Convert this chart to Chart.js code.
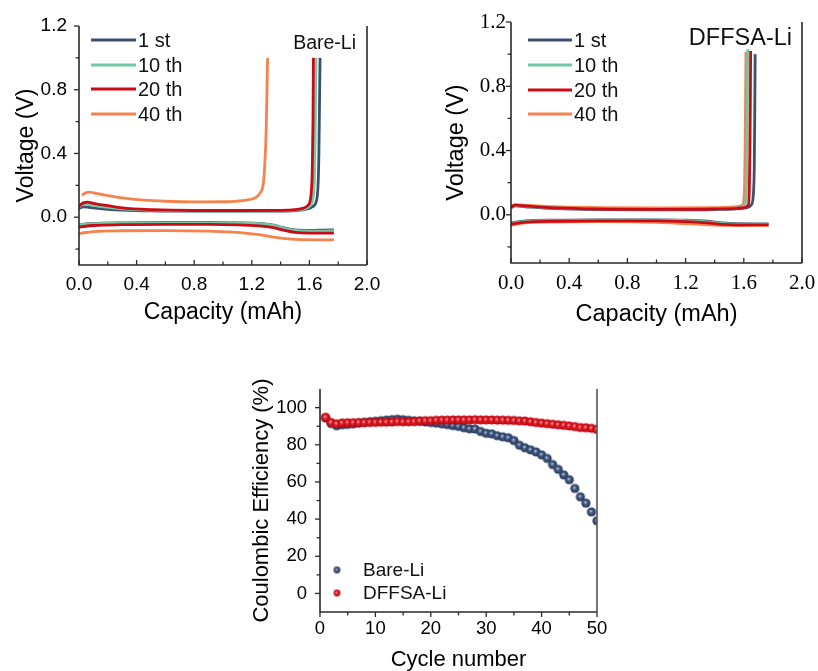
<!DOCTYPE html>
<html>
<head>
<meta charset="utf-8">
<script src="https://cdn.jsdelivr.net/npm/chart.js@4.4.1/dist/chart.umd.min.js"></script>
<style>
  body { margin: 0; background: #fff; width: 818px; height: 671px; overflow: hidden; position: relative; }
  canvas { position: absolute; }
</style>
</head>
<body>
<canvas id="bare" width="400" height="335" style="left:0;top:0"></canvas>
<canvas id="ffsa" width="420" height="335" style="left:420px;top:0"></canvas>
<canvas id="ce" width="400" height="306" style="left:235px;top:365px"></canvas>
<script>
// ---- data: voltage profiles [capacity mAh, voltage V] ----
const bare1stCharge = [[0,0.055],[0.03,0.065],[0.06,0.063],[0.1,0.058],[0.2,0.05],[0.3,0.045],[0.5,0.04],[0.8,0.038],[1.1,0.038],[1.4,0.039],[1.5,0.042],[1.58,0.05],[1.62,0.065],[1.648,0.1],[1.66,0.2],[1.666,0.4],[1.67,0.7],[1.674,1.0]];
const bare10thCharge = [[0,0.065],[0.03,0.08],[0.06,0.08],[0.1,0.074],[0.2,0.062],[0.3,0.052],[0.5,0.044],[0.8,0.04],[1.1,0.04],[1.4,0.041],[1.5,0.044],[1.56,0.05],[1.6,0.068],[1.625,0.12],[1.635,0.25],[1.64,0.5],[1.643,0.8],[1.646,1.0]];
const bare20thCharge = [[0,0.07],[0.03,0.09],[0.06,0.094],[0.1,0.087],[0.2,0.072],[0.3,0.058],[0.5,0.047],[0.8,0.042],[1.1,0.042],[1.4,0.043],[1.5,0.047],[1.55,0.055],[1.59,0.075],[1.61,0.13],[1.62,0.3],[1.625,0.6],[1.628,1.0]];
const bare40thCharge = [[0.02,0.138],[0.04,0.15],[0.07,0.158],[0.1,0.153],[0.2,0.136],[0.3,0.121],[0.45,0.107],[0.6,0.1],[0.8,0.096],[1.0,0.097],[1.1,0.101],[1.18,0.11],[1.23,0.125],[1.26,0.155],[1.28,0.21],[1.29,0.33],[1.3,0.55],[1.305,0.78],[1.31,1.0]];

const bare1stDischarge = [[0,-0.045],[0.1,-0.039],[0.3,-0.035],[0.6,-0.033],[0.9,-0.033],[1.1,-0.035],[1.25,-0.039],[1.35,-0.05],[1.42,-0.066],[1.5,-0.08],[1.6,-0.083],[1.7,-0.081],[1.77,-0.079]];
const bare10thDischarge = [[0,-0.048],[0.1,-0.041],[0.3,-0.037],[0.6,-0.035],[0.9,-0.035],[1.1,-0.037],[1.25,-0.041],[1.35,-0.052],[1.42,-0.069],[1.5,-0.083],[1.6,-0.087],[1.7,-0.087],[1.77,-0.086]];
const bare20thDischarge = [[0,-0.062],[0.1,-0.052],[0.3,-0.047],[0.6,-0.045],[0.9,-0.045],[1.1,-0.048],[1.25,-0.055],[1.35,-0.066],[1.42,-0.081],[1.5,-0.095],[1.6,-0.1],[1.77,-0.1]];
const bare40thDischarge = [[0,-0.102],[0.1,-0.09],[0.3,-0.085],[0.6,-0.084],[0.9,-0.088],[1.1,-0.095],[1.25,-0.11],[1.35,-0.125],[1.45,-0.136],[1.55,-0.141],[1.77,-0.142]];

const ffsa1stCharge = [[0,0.045],[0.03,0.055],[0.1,0.05],[0.3,0.038],[0.6,0.032],[1.0,0.031],[1.4,0.033],[1.55,0.037],[1.62,0.045],[1.652,0.062],[1.665,0.12],[1.672,0.3],[1.675,0.6],[1.678,1.0]];
const ffsa10thCharge = [[0,0.05],[0.03,0.058],[0.1,0.054],[0.3,0.042],[0.6,0.036],[1.0,0.035],[1.4,0.037],[1.55,0.042],[1.59,0.05],[1.61,0.07],[1.618,0.15],[1.622,0.4],[1.625,0.7],[1.627,1.03]];
const ffsa20thCharge = [[0,0.048],[0.03,0.06],[0.1,0.055],[0.3,0.043],[0.6,0.036],[1.0,0.034],[1.4,0.036],[1.55,0.04],[1.6,0.045],[1.63,0.06],[1.638,0.15],[1.642,0.4],[1.645,0.7],[1.647,1.02]];
const ffsa40thCharge = [[0,0.052],[0.03,0.063],[0.1,0.06],[0.3,0.05],[0.6,0.045],[1.0,0.043],[1.4,0.045],[1.55,0.05],[1.59,0.06],[1.603,0.12],[1.608,0.35],[1.612,0.7],[1.615,1.015]];

const ffsa1stDischarge = [[0,-0.05],[0.1,-0.038],[0.3,-0.033],[0.6,-0.031],[1.0,-0.031],[1.2,-0.033],[1.35,-0.04],[1.45,-0.05],[1.55,-0.055],[1.77,-0.056]];
const ffsa10thDischarge = [[0,-0.054],[0.1,-0.041],[0.3,-0.036],[0.6,-0.034],[1.0,-0.034],[1.2,-0.036],[1.35,-0.044],[1.45,-0.054],[1.55,-0.058],[1.77,-0.059]];
const ffsa20thDischarge = [[0,-0.058],[0.1,-0.045],[0.3,-0.04],[0.6,-0.038],[1.0,-0.038],[1.2,-0.042],[1.35,-0.05],[1.45,-0.06],[1.55,-0.063],[1.77,-0.063]];
const ffsa40thDischarge = [[0,-0.066],[0.1,-0.05],[0.3,-0.045],[0.6,-0.043],[1.0,-0.047],[1.2,-0.055],[1.35,-0.062],[1.45,-0.066],[1.55,-0.067],[1.77,-0.066]];

const cycleLabels = ['1 st', '10 th', '20 th', '40 th'];
const cycleColors = ['#3b4f6e', '#72c8a4', '#cc0a14', '#f6824e'];

// ---- data: coulombic efficiency (%) per cycle ----
const cycles = [1,2,3,4,5,6,7,8,9,10,11,12,13,14,15,16,17,18,19,20,21,22,23,24,25,26,27,28,29,30,31,32,33,34,35,36,37,38,39,40,41,42,43,44,45,46,47,48,49,50];
const bareCE = [94.5,91.5,90.3,90.8,91.0,91.3,91.7,92.1,92.4,92.7,93.0,93.3,93.6,93.8,93.5,93.2,92.9,92.6,92.3,92.0,91.7,91.3,90.9,90.4,89.9,89.2,88.6,88.5,87.2,86.2,85.9,84.9,84.3,83.8,82.3,79.8,78.4,77.3,76.2,74.6,72.7,69.4,66.8,63.8,61.2,56.5,52.0,48.6,43.9,39.1];
const ffsaCE = [94.8,92.0,91.3,91.8,91.9,91.9,92.0,92.0,92.1,92.1,92.2,92.2,92.3,92.5,92.4,92.4,92.5,92.9,93.0,93.0,93.2,93.3,93.3,93.4,93.4,93.4,93.4,93.5,93.4,93.4,93.4,93.3,93.3,93.2,93.1,92.9,92.8,92.4,92.0,91.7,91.4,91.1,90.8,90.5,90.2,89.8,89.3,89.2,88.9,88.3];

// ---- ticks ----
const capTicks = [0,0.2,0.4,0.6,0.8,1.0,1.2,1.4,1.6,1.8,2.0];
const capLabels = [0,0.4,0.8,1.2,1.6,2.0];
const voltTicks = [-0.2,0,0.2,0.4,0.6,0.8,1.0,1.2];
const voltLabels = [0,0.4,0.8,1.2];
const cycleTicks = [0,5,10,15,20,25,30,35,40,45,50];
const cycleTickLabels = [0,10,20,30,40,50];
const ceTicks = [0,10,20,30,40,50,60,70,80,90,100];
const ceTickLabels = [0,20,40,60,80,100];

const SANS = 'Arial, "Liberation Sans", sans-serif';
const SERIF = '"Times New Roman", "Liberation Serif", serif';
const AXIS = '#2a2a2a';

const isIn = (v, list) => list.some(l => Math.abs(l - v) < 1e-9);

// frame + custom tick marks (x ticks may point inward)
function framePlugin(opt) {
  return {
    id: 'frame',
    afterDraw(chart) {
      const {ctx, chartArea: a, scales} = chart;
      ctx.save();
      ctx.strokeStyle = AXIS;
      ctx.lineWidth = 1.6;
      ctx.beginPath();
      ctx.moveTo(a.left, a.top); ctx.lineTo(a.left, a.bottom); ctx.lineTo(a.right, a.bottom);
      ctx.stroke();
      ctx.strokeStyle = opt.rightColor || AXIS;
      ctx.beginPath(); ctx.moveTo(a.right, a.top); ctx.lineTo(a.right, a.bottom); ctx.stroke();
      ctx.strokeStyle = AXIS;
      ctx.lineWidth = 1.3;
      scales.x.ticks.forEach(t => {
        const px = scales.x.getPixelForValue(t.value);
        const len = isIn(t.value, opt.xMajor) ? 5 : 3.5;
        const dir = opt.xInward ? -1 : 1;
        ctx.beginPath(); ctx.moveTo(px, a.bottom); ctx.lineTo(px, a.bottom + dir * len); ctx.stroke();
      });
      scales.y.ticks.forEach(t => {
        const py = scales.y.getPixelForValue(t.value);
        const len = isIn(t.value, opt.yMajor) ? 5 : 3.5;
        ctx.beginPath(); ctx.moveTo(a.left, py); ctx.lineTo(a.left - len, py); ctx.stroke();
      });
      ctx.restore();
    }
  };
}

const hiddenGrid = { display: false, drawTicks: false };

function voltChart(id, charges, discharges, box) {
  const el = document.getElementById(id);
  const W = el.width, H = el.height;
  const datasets = [];
  const order = [2, 1, 0, 3];
  charges.forEach((c, i) => {
    [c, discharges[i]].forEach(d => datasets.push({
      label: cycleLabels[i],
      data: d,
      borderColor: cycleColors[i],
      borderWidth: 2.8,
      pointRadius: 0,
      showLine: true,
      cubicInterpolationMode: 'monotone',
      order: order[i]
    }));
  });

  const legendPlugin = {
    id: 'lineLegend',
    afterDraw(chart) {
      const ctx = chart.ctx;
      ctx.save();
      ctx.font = '20px ' + SANS;
      ctx.textBaseline = 'middle';
      ctx.fillStyle = '#111';
      cycleLabels.forEach((lab, i) => {
        const y = box.legY[i];
        ctx.strokeStyle = cycleColors[i];
        ctx.lineWidth = 3;
        ctx.beginPath(); ctx.moveTo(box.legX1, y); ctx.lineTo(box.legX2, y); ctx.stroke();
        ctx.fillText(lab, box.legX2 + 2, y + 1);
      });
      ctx.font = box.tagSize + 'px ' + SANS;
      ctx.textAlign = 'right';
      ctx.fillText(box.tag, box.tagX, box.tagY);
      ctx.restore();
    }
  };

  return new Chart(el, {
    type: 'scatter',
    data: { datasets },
    options: {
      responsive: false,
      animation: false,
      layout: { padding: { left: 0, top: box.top, right: W - box.right, bottom: 0 } },
      plugins: { legend: { display: false }, tooltip: { enabled: false } },
      scales: {
        x: {
          type: 'linear', min: 0, max: 2.0,
          afterBuildTicks: s => { s.ticks = capTicks.map(v => ({value: v})); },
          afterFit: s => { s.height = H - box.bottom; },
          grid: hiddenGrid, border: { display: false },
          ticks: {
            padding: box.xPad, color: '#000', maxRotation: 0, minRotation: 0, autoSkip: false,
            font: { family: box.tickFamily, size: box.tickSize },
            callback: v => isIn(v, capLabels) ? v.toFixed(1) : ''
          },
          title: {
            display: true, text: 'Capacity (mAh)', color: '#000',
            font: { family: SANS, size: box.titleSize, lineHeight: 1.2 },
            padding: { top: 0, bottom: box.xTitlePad }
          }
        },
        y: {
          type: 'linear', min: -0.3, max: 1.2,
          afterBuildTicks: s => { s.ticks = voltTicks.map(v => ({value: v})); },
          afterFit: s => { s.width = box.left; },
          grid: hiddenGrid, border: { display: false },
          ticks: {
            padding: box.yPad, color: '#000', autoSkip: false,
            font: { family: box.tickFamily, size: box.tickSize },
            callback: v => isIn(v, voltLabels) ? v.toFixed(1) : ''
          },
          title: {
            display: true, text: 'Voltage (V)', color: '#000',
            font: { family: SANS, size: box.titleSize, lineHeight: 1.2 },
            padding: { top: box.yTitlePad, bottom: 0 }
          }
        }
      }
    },
    plugins: [framePlugin({ xMajor: capLabels, yMajor: voltLabels, xInward: true }), legendPlugin]
  });
}

voltChart('bare',
  [bare1stCharge, bare10thCharge, bare20thCharge, bare40thCharge],
  [bare1stDischarge, bare10thDischarge, bare20thDischarge, bare40thDischarge],
  { left: 79, right: 367, top: 26, bottom: 265, tickFamily: SANS, tickSize: 19, titleSize: 23,
    xPad: 8, yPad: 12, xTitlePad: 9, yTitlePad: 13,
    legX1: 91, legX2: 136, legY: [40, 65, 89, 114],
    tag: 'Bare-Li', tagSize: 19.5, tagX: 356, tagY: 44 });

voltChart('ffsa',
  [ffsa1stCharge, ffsa10thCharge, ffsa20thCharge, ffsa40thCharge],
  [ffsa1stDischarge, ffsa10thDischarge, ffsa20thDischarge, ffsa40thDischarge],
  { left: 91, right: 382, top: 22, bottom: 263, tickFamily: SERIF, tickSize: 21, titleSize: 23.5,
    xPad: 8, yPad: 5, xTitlePad: 6, yTitlePad: 22,
    legX1: 108, legX2: 152, legY: [40, 65, 90, 114],
    tag: 'DFFSA-Li', tagSize: 23.5, tagX: 372, tagY: 39 });

// ---- coulombic efficiency ----
function sphere(r, light, mid, dark) {
  const c = document.createElement('canvas');
  c.width = c.height = Math.ceil(2 * r + 2);
  const g = c.getContext('2d');
  const m = c.width / 2;
  const grad = g.createRadialGradient(m - r * 0.15, m - r * 0.2, 0, m, m, r);
  grad.addColorStop(0, light);
  grad.addColorStop(0.35, mid);
  grad.addColorStop(1, dark);
  g.fillStyle = grad;
  g.beginPath(); g.arc(m, m, r, 0, Math.PI * 2); g.fill();
  return c;
}
const bareDot = sphere(4.6, '#e4eaf2', '#4a6088', '#23365a');
const ffsaDot = sphere(4.6, '#ffd8d8', '#e8262e', '#b8000c');
const bareDotSmall = sphere(3.4, '#e4eaf2', '#4a6088', '#23365a');
const ffsaDotSmall = sphere(3.4, '#ffd8d8', '#e8262e', '#b8000c');

(function () {
  const el = document.getElementById('ce');
  const W = el.width, H = el.height;
  const box = { left: 85, right: 362, top: 18, bottom: 247 };
  const ceLegend = {
    id: 'ceLegend',
    afterDraw(chart) {
      const ctx = chart.ctx;
      ctx.save();
      ctx.font = '19px ' + SANS;
      ctx.textBaseline = 'middle';
      ctx.fillStyle = '#111';
      [[bareDotSmall, 'Bare-Li', 205], [ffsaDotSmall, 'DFFSA-Li', 228]].forEach(([img, txt, y]) => {
        ctx.drawImage(img, 102 - img.width / 2, y - img.height / 2);
        ctx.fillText(txt, 128, y + 1);
      });
      ctx.restore();
    }
  };
  new Chart(el, {
    type: 'scatter',
    data: {
      datasets: [
        { label: 'Bare-Li', data: cycles.map((c, i) => ({x: c, y: bareCE[i]})), pointStyle: bareDot, order: 1 },
        { label: 'DFFSA-Li', data: cycles.map((c, i) => ({x: c, y: ffsaCE[i]})), pointStyle: ffsaDot, order: 0 }
      ]
    },
    options: {
      responsive: false,
      animation: false,
      layout: { padding: { left: 0, top: box.top, right: W - box.right, bottom: 0 } },
      plugins: { legend: { display: false }, tooltip: { enabled: false } },
      scales: {
        x: {
          type: 'linear', min: 0, max: 50,
          afterBuildTicks: s => { s.ticks = cycleTicks.map(v => ({value: v})); },
          afterFit: s => { s.height = H - box.bottom; },
          grid: hiddenGrid, border: { display: false },
          ticks: {
            padding: 6, color: '#000', maxRotation: 0, minRotation: 0, autoSkip: false,
            font: { family: SANS, size: 18.5 },
            callback: v => isIn(v, cycleTickLabels) ? String(v) : ''
          },
          title: {
            display: true, text: 'Cycle number', color: '#000',
            font: { family: SANS, size: 22, lineHeight: 1 },
            padding: { top: 0, bottom: 0 }
          }
        },
        y: {
          type: 'linear', min: -10, max: 110,
          afterBuildTicks: s => { s.ticks = ceTicks.map(v => ({value: v})); },
          afterFit: s => { s.width = box.left; },
          grid: hiddenGrid, border: { display: false },
          ticks: {
            padding: 13, color: '#000', autoSkip: false, font: { family: SANS, size: 18.5 },
            callback: v => isIn(v, ceTickLabels) ? String(v) : ''
          },
          title: {
            display: true, text: 'Coulombic Efficiency (%)', color: '#000',
            font: { family: SANS, size: 22, lineHeight: 1.2 },
            padding: { top: 14, bottom: 0 }
          }
        }
      }
    },
    plugins: [framePlugin({ xMajor: cycleTickLabels, yMajor: ceTickLabels, xInward: false, rightColor: '#555' }), ceLegend]
  });
})();
</script>
</body>
</html>
